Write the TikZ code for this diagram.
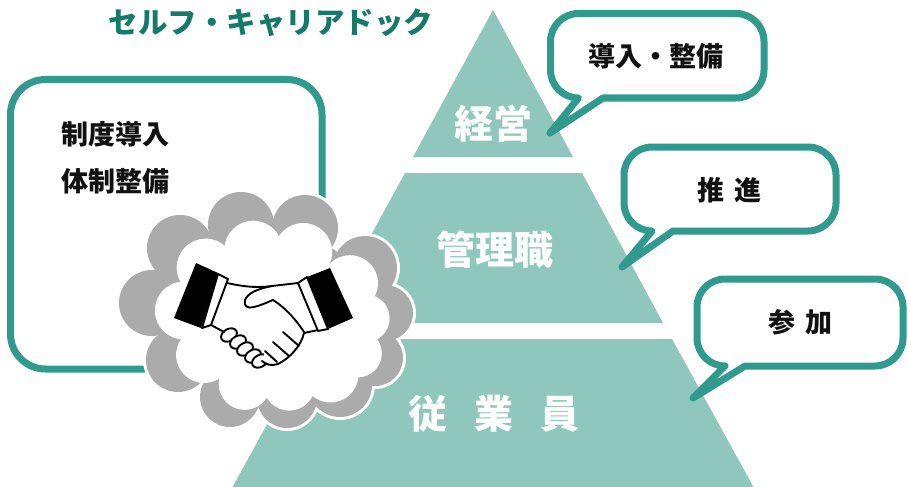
\documentclass[tikz,border=0pt]{standalone}
\usepackage{fontspec}
\setmainfont{Noto Sans CJK JP}
\definecolor{bubbleteal}{RGB}{49,154,142}
\definecolor{tierfill}{RGB}{143,199,188}
\definecolor{titleteal}{RGB}{22,122,104}
\definecolor{cloudgrey}{RGB}{171,171,171}
\definecolor{inktext}{RGB}{17,17,17}

% speech bubble: left, top, right, bottom, tail tip x, tail tip y, tail base x
\newcommand\talkbox[7]{%
  \draw[bubble] (#5,#6) -- (#7,#4) -- ({#3-28},#4)
    arc[start angle=90,end angle=0,radius=28] -- (#3,{#2+28})
    arc[start angle=0,end angle=-90,radius=28] -- ({#1+28},#2)
    arc[start angle=-90,end angle=-180,radius=28] -- (#1,{#4-28})
    arc[start angle=180,end angle=90,radius=28] -- cycle;}

\begin{document}
\begin{tikzpicture}[x=1pt,y=-1pt,
  tier/.style={fill=tierfill},
  tiertext/.style={text=white,inner sep=0,font=\bfseries\fontsize{39}{39}\selectfont},
  bubble/.style={draw=bubbleteal,fill=white,line width=7pt,line join=round},
  frame/.style={draw=bubbleteal,fill=white,line width=7pt,rounded corners=35pt},
  say/.style={text=inktext,inner sep=0,font=\bfseries\fontsize{27}{27}\selectfont},
  headline/.style={text=titleteal,inner sep=0,font=\bfseries\fontsize{29.5}{29.5}\selectfont},
  cloudedge/.style={draw=white,line width=6pt},
  ink/.style={draw=black,line width=1.9pt,line join=round,line cap=round}]

\path[use as bounding box,fill=white] (0,0) rectangle (908,487);

% pyramid tiers
\fill[tier] (493,10) -- (573,157) -- (413,157) -- cycle;
\fill[tier] (405,173) -- (582,173) -- (663,323) -- (323,323) -- cycle;
\fill[tier] (314,339) -- (672,339) -- (754,488) -- (232,488) -- cycle;

\node[tiertext] (exec)  at (493,124) {経営};
\node[tiertext] (mgr)   at (495,250) {管理職};
\node[tiertext] (staff) at (494,414) {従\hspace{27pt}業\hspace{27pt}員};

% title
\node[headline] (title) at (271,22.5) {セルフ・キャリアドック};

% left frame
\draw[frame] (10.5,79.5) rectangle (322,369);
\node[say,anchor=west] (policy1) at (61,134) {制度導入};
\node[say,anchor=west] (policy2) at (61,181) {体制整備};

% speech bubbles
\talkbox{550.5}{13.5}{764}{98}{550}{133}{603}
\talkbox{624}{147}{836}{231}{622}{267}{673}
\talkbox{697}{279}{903}{366}{693}{398}{745}
\node[say] (b1) at (656,56) {導入・整備};
\node[say] (b2) at (729.5,190) {推\hspace{11pt}進};
\node[say] (b3) at (800.5,322.5) {参\hspace{11pt}加};

% cloud: white rim, grey body, white inside
\draw[cloudedge] (265,310) ellipse[x radius=105,y radius=80];
\foreach \cx/\cy/\r in {241/225/33,305/228/33,365/268/32,385/313/28,375/358/28,
  340/385/32,287/398/30,230/397/30,178/360/32,152/303/33,180/248/33}
  \draw[cloudedge] (\cx,\cy) circle[radius=\r];
\fill[cloudgrey] (265,310) ellipse[x radius=105,y radius=80];
\foreach \cx/\cy/\r in {241/225/33,305/228/33,365/268/32,385/313/28,375/358/28,
  340/385/32,287/398/30,230/397/30,178/360/32,152/303/33,180/248/33}
  \fill[cloudgrey] (\cx,\cy) circle[radius=\r];
\fill[white] (272,316) ellipse[x radius=90,y radius=65];
\foreach \cx/\cy/\r in {253.3/249.7/29,303.2/252/29,350/283.2/28,365.6/318.3/24,
  357.8/353.4/24,330.5/374.5/28,289.2/384.6/26,244.7/383.9/26,204.1/355/28,
  183.9/310.5/29,205.7/267.6/29}
  \fill[white] (\cx,\cy) circle[radius=\r];

% handshake: curled fingers of the left hand
\foreach \kx/\ky in {229/335,238/342,245/349,253/356,260/361}
  \draw[ink,fill=white] (\kx,\ky) ellipse[x radius=8.5,y radius=6,rotate=30];
% right hand
\fill[white] (298,283) -- (270,286) .. controls (257,289) and (248,293) .. (245,300)
  .. controls (243,306) and (248,309) .. (254,307) -- (272,301) -- (263,361)
  -- (272,365) -- (282,362) -- (292,354) -- (300,344) -- (304,333) -- (318,330) -- cycle;
\draw[ink] (227,283) .. controls (245,287) and (258,288) .. (272,286) -- (298,283);
\draw[ink] (272,286) .. controls (257,289) and (248,293) .. (245,300)
  .. controls (243,306) and (248,309) .. (254,307)
  .. controls (262,305) and (268,302) .. (273,300)
  .. controls (283,306) and (295,318) .. (304,332);
\draw[ink] (318,330) -- (304,333) .. controls (301,346) and (290,358) .. (278,364)
  .. controls (272,366) and (266,365) .. (262,361);
\draw[ink] (283,332) -- (299,346);
\draw[ink] (273,342) -- (289,356);
\draw[ink] (265,351) -- (277,362);
\draw[ink] (211,325) -- (224,332);
% cuffs
\draw[ink,fill=white] (218,274) -- (228,279) -- (211,325) -- (202,328) -- cycle;
\fill[black] (196,263) -- (218,273) -- (201,328) -- (174,318) -- cycle;
\draw[ink,fill=white] (298,283) -- (307,277) -- (328,329) -- (318,331) -- cycle;
\fill[black] (307,277) -- (330,268) -- (353,318) -- (328,329) -- cycle;
\end{tikzpicture}
\end{document}
